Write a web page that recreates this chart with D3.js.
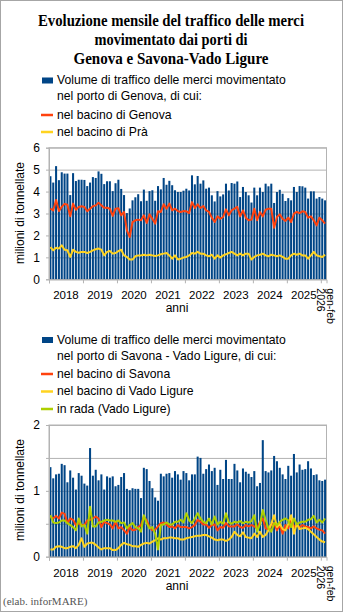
<!DOCTYPE html>
<html>
<head>
<meta charset="utf-8">
<script src="https://cdn.jsdelivr.net/npm/d3@7"></script>
<style>
  html, body { margin: 0; padding: 0; background: #fff; }
  svg { display: block; }
  text { font-family: "Liberation Sans", Arial, sans-serif; fill: #000; }
  .serif { font-family: "Liberation Serif", "Times New Roman", serif; }
</style>
</head>
<body>
<svg id="chart" width="343" height="612"></svg>
<script>
// Monthly freight traffic, Jan 2018 – Feb 2026 (million tonnes)
const yearLabels = ["2018", "2019", "2020", "2021", "2022", "2023", "2024", "2025"];
const lastLabel = ["gen-feb", "2026"];

// Port of Genova: total, Genova basin, Prà basin
const genovaTotale = [
  4.70, 4.41, 5.16, 4.52, 4.88, 4.82, 4.82, 3.84, 4.84, 4.48, 4.54, 4.54,
  4.53, 4.25, 4.41, 4.66, 4.62, 4.92, 4.81, 4.34, 4.47, 4.47, 4.02, 4.38,
  4.54, 4.12, 3.84, 3.02, 3.23, 3.60, 3.74, 3.88, 3.56, 4.09, 3.58, 4.02,
  4.06, 3.58, 4.25, 4.10, 4.62, 4.31, 4.49, 4.29, 4.06, 3.98, 3.98, 4.04,
  4.13, 4.05, 4.74, 4.33, 4.71, 4.36, 4.51, 4.13, 4.18, 3.83, 3.55, 4.02,
  3.78, 3.87, 4.36, 4.05, 4.39, 4.36, 4.46, 3.75, 4.21, 3.98, 3.83, 3.50,
  4.18, 3.83, 4.18, 3.98, 4.36, 4.24, 4.36, 3.48, 3.98, 4.08, 3.90, 3.57,
  3.70, 3.60, 4.21, 3.98, 4.25, 4.24, 4.18, 3.68, 4.01, 4.01, 3.68, 3.75,
  3.68, 3.60
];
const bacinoGenova = [
  3.22, 3.14, 3.62, 3.11, 3.30, 3.44, 3.40, 2.87, 3.45, 3.17, 3.30, 3.33,
  3.30, 3.10, 3.22, 3.33, 3.37, 3.49, 3.37, 3.26, 3.26, 3.22, 2.89, 3.22,
  3.24, 2.92, 3.07, 2.23, 1.93, 2.61, 2.69, 2.72, 2.69, 2.92, 2.57, 2.96,
  2.76, 2.54, 3.10, 3.07, 3.42, 3.22, 3.45, 3.14, 3.22, 3.11, 3.07, 3.11,
  3.10, 3.02, 3.52, 3.25, 3.42, 3.25, 3.34, 3.14, 3.07, 2.81, 2.61, 2.87,
  2.76, 2.84, 3.19, 2.92, 3.14, 3.22, 3.30, 2.87, 3.14, 2.81, 2.69, 2.72,
  3.22, 2.69, 3.07, 2.87, 3.17, 3.22, 3.22, 2.35, 2.84, 2.96, 2.76, 2.66,
  2.81, 2.61, 2.99, 3.07, 3.02, 3.10, 3.07, 2.81, 2.87, 2.69, 2.46, 2.81,
  2.69, 2.54
];
const bacinoPra = [
  1.47, 1.32, 1.44, 1.40, 1.55, 1.35, 1.32, 1.02, 1.35, 1.25, 1.21, 1.25,
  1.25, 1.20, 1.25, 1.32, 1.37, 1.40, 1.35, 1.09, 1.25, 1.29, 1.17, 1.20,
  1.28, 1.35, 1.09, 1.02, 0.90, 0.90, 1.05, 1.09, 1.09, 1.12, 1.09, 1.12,
  1.09, 1.06, 1.09, 1.14, 1.17, 1.20, 1.09, 0.94, 1.09, 0.90, 0.94, 0.99,
  1.02, 1.09, 1.20, 1.17, 1.25, 1.17, 1.17, 1.09, 1.05, 1.12, 0.94, 1.09,
  0.99, 1.09, 1.14, 1.20, 1.25, 1.17, 1.09, 1.17, 1.09, 1.17, 1.17, 0.90,
  1.02, 1.09, 1.12, 1.17, 1.09, 1.05, 1.12, 1.09, 1.05, 1.09, 1.02, 0.94,
  0.94, 1.09, 1.17, 1.12, 1.17, 1.09, 1.09, 0.94, 1.09, 1.25, 1.09, 1.05,
  1.02, 1.12
];

// Port of Savona - Vado Ligure: total, Savona basin, Vado Ligure basin, roadstead
const savonaTotale = [
  1.36, 1.19, 1.25, 1.26, 1.41, 1.39, 1.13, 1.31, 1.20, 1.02, 1.27, 1.23,
  1.11, 1.08, 1.65, 1.23, 1.32, 1.16, 1.25, 1.02, 1.22, 1.20, 1.22, 1.07,
  1.09, 1.21, 1.27, 1.03, 1.01, 1.04, 1.03, 1.03, 0.89, 1.35, 1.33, 1.15,
  1.04, 0.90, 0.85, 1.26, 1.22, 1.26, 1.27, 1.20, 1.30, 1.25, 1.17, 1.30,
  1.27, 1.16, 1.25, 1.25, 1.52, 1.50, 1.26, 1.33, 1.40, 1.30, 1.35, 1.09,
  1.32, 1.18, 1.47, 1.18, 1.18, 1.41, 1.31, 1.13, 1.34, 1.29, 1.26, 1.21,
  1.30, 1.07, 1.12, 1.77, 1.30, 1.28, 1.31, 1.53, 1.45, 1.35, 1.25, 1.18,
  1.38, 1.23, 1.56, 1.28, 1.40, 1.32, 1.33, 1.45, 1.34, 1.24, 1.25, 1.16,
  1.15, 1.17
];
const bacinoSavona = [
  0.61, 0.58, 0.62, 0.58, 0.67, 0.65, 0.51, 0.58, 0.56, 0.48, 0.51, 0.48,
  0.48, 0.55, 0.56, 0.58, 0.61, 0.58, 0.45, 0.53, 0.51, 0.49, 0.43, 0.53,
  0.43, 0.45, 0.40, 0.35, 0.45, 0.40, 0.41, 0.45, 0.48, 0.61, 0.55, 0.45,
  0.40, 0.41, 0.46, 0.51, 0.52, 0.49, 0.45, 0.46, 0.43, 0.48, 0.45, 0.45,
  0.45, 0.43, 0.45, 0.48, 0.56, 0.53, 0.49, 0.49, 0.44, 0.48, 0.49, 0.40,
  0.45, 0.44, 0.51, 0.46, 0.46, 0.46, 0.49, 0.45, 0.44, 0.48, 0.46, 0.48,
  0.46, 0.43, 0.53, 0.58, 0.43, 0.41, 0.48, 0.51, 0.40, 0.48, 0.35, 0.48,
  0.43, 0.58, 0.45, 0.48, 0.45, 0.48, 0.46, 0.45, 0.43, 0.46, 0.43, 0.41,
  0.40, 0.35
];
const bacinoVado = [
  0.11, 0.11, 0.15, 0.16, 0.15, 0.13, 0.13, 0.15, 0.16, 0.13, 0.18, 0.28,
  0.15, 0.20, 0.21, 0.21, 0.18, 0.14, 0.11, 0.13, 0.13, 0.13, 0.10, 0.10,
  0.13, 0.18, 0.21, 0.19, 0.18, 0.16, 0.16, 0.15, 0.18, 0.20, 0.21, 0.20,
  0.23, 0.25, 0.28, 0.26, 0.28, 0.28, 0.29, 0.29, 0.28, 0.28, 0.26, 0.26,
  0.28, 0.29, 0.30, 0.31, 0.32, 0.32, 0.33, 0.33, 0.31, 0.29, 0.26, 0.25,
  0.26, 0.26, 0.24, 0.26, 0.30, 0.38, 0.33, 0.31, 0.37, 0.30, 0.29, 0.28,
  0.35, 0.30, 0.38, 0.30, 0.33, 0.40, 0.50, 0.63, 0.45, 0.50, 0.42, 0.40,
  0.50, 0.63, 0.35, 0.50, 0.42, 0.43, 0.44, 0.42, 0.38, 0.34, 0.30, 0.26,
  0.23, 0.22
];
const radaVado = [
  0.63, 0.52, 0.51, 0.52, 0.55, 0.55, 0.51, 0.48, 0.45, 0.40, 0.58, 0.46,
  0.48, 0.35, 0.76, 0.46, 0.46, 0.52, 0.53, 0.55, 0.56, 0.55, 0.55, 0.53,
  0.55, 0.51, 0.52, 0.43, 0.48, 0.51, 0.45, 0.43, 0.38, 0.63, 0.51, 0.43,
  0.45, 0.35, 0.11, 0.48, 0.49, 0.52, 0.49, 0.49, 0.53, 0.53, 0.56, 0.52,
  0.66, 0.55, 0.51, 0.58, 0.66, 0.58, 0.53, 0.51, 0.58, 0.49, 0.61, 0.49,
  0.53, 0.50, 0.66, 0.52, 0.50, 0.53, 0.52, 0.54, 0.51, 0.53, 0.52, 0.54,
  0.63, 0.38, 0.49, 0.71, 0.56, 0.43, 0.38, 0.51, 0.48, 0.53, 0.56, 0.58,
  0.55, 0.45, 0.58, 0.49, 0.52, 0.53, 0.53, 0.56, 0.57, 0.62, 0.52, 0.56,
  0.52, 0.58
];

const COLORS = { bar: "#004586", red: "#ff420e", yellow: "#ffd320", green: "#aecf00" };
const GRID = "#b3b3b3";

const svg = d3.select("#chart");

// page frame
svg.append("rect")
  .attr("x", 0.5).attr("y", 0.5).attr("width", 342).attr("height", 611)
  .attr("fill", "#fff").attr("stroke", "#a6a6a6");

// title
const titleLines = [
  { t: "Evoluzione mensile del traffico delle merci", y: 26, w: 266 },
  { t: "movimentato dai porti di", y: 45, w: 153 },
  { t: "Genova e Savona-Vado Ligure", y: 63.5, w: 195 }
];
svg.append("g").selectAll("text").data(titleLines).join("text")
  .attr("class", "serif")
  .attr("x", 171).attr("y", d => d.y)
  .attr("text-anchor", "middle")
  .attr("font-size", 16).attr("font-weight", "bold")
  .attr("textLength", d => d.w).attr("lengthAdjust", "spacingAndGlyphs")
  .text(d => d.t);

function legend(g, items) {
  items.forEach(it => {
    if (it.kind === "bar") {
      g.append("rect").attr("x", 42).attr("y", it.y - 6.5).attr("width", 11).attr("height", 6)
        .attr("fill", it.color);
    } else {
      g.append("line").attr("x1", 41).attr("x2", 53).attr("y1", it.y - 3.5).attr("y2", it.y - 3.5)
        .attr("stroke", it.color).attr("stroke-width", 2.5);
    }
    it.lines.forEach((ln, k) => {
      g.append("text").attr("x", 57).attr("y", it.y + k * 16)
        .attr("font-size", 12.2).text(ln);
    });
  });
}

function panel(cfg) {
  const g = svg.append("g");
  const n = cfg.total.length;
  const x0 = 49, x1 = 326.5;

  const x = d3.scaleBand().domain(d3.range(n)).range([x0, x1])
    .paddingInner(0.28).paddingOuter(0.14);
  const xm = d3.scaleLinear().domain([0, n]).range([x0, x1]);
  const y = d3.scaleLinear().domain([0, cfg.max]).range([cfg.y0, cfg.y1]);

  // gridlines
  g.append("g").attr("transform", `translate(${x0},0)`)
    .call(d3.axisLeft(y).tickValues(cfg.grid).tickSize(-(x1 - x0)).tickFormat(""))
    .call(a => a.select(".domain").remove())
    .call(a => a.selectAll("line").attr("stroke", GRID));

  // plot frame
  g.append("rect").attr("x", x0).attr("y", cfg.y1).attr("width", x1 - x0).attr("height", cfg.y0 - cfg.y1)
    .attr("fill", "none").attr("stroke", GRID);

  // bars
  g.append("g").selectAll("rect").data(cfg.total).join("rect")
    .attr("x", (d, i) => x(i)).attr("width", x.bandwidth())
    .attr("y", d => y(d)).attr("height", d => y(0) - y(d))
    .attr("fill", COLORS.bar);

  // lines
  const line = d3.line().x((d, i) => x(i) + x.bandwidth() / 2).y(d => y(d));
  cfg.series.forEach(s => {
    g.append("path").datum(s.values).attr("d", line)
      .attr("fill", "none").attr("stroke", s.color).attr("stroke-width", 2)
      .attr("stroke-linejoin", "round");
  });

  // y axis
  const ya = g.append("g").attr("transform", `translate(${x0},0)`)
    .call(d3.axisLeft(y).tickValues(cfg.grid).tickSize(3).tickPadding(6)
      .tickFormat(d => cfg.labels.includes(d) ? d3.format("d")(d) : ""));
  ya.select(".domain").attr("stroke", GRID);
  ya.selectAll("line").attr("stroke", GRID);
  ya.selectAll("text").attr("font-size", 12).attr("font-family", "Liberation Sans, Arial, sans-serif");

  // x axis: year separators
  const xa = g.append("g").attr("transform", `translate(0,${cfg.y0})`)
    .call(d3.axisBottom(xm).tickValues(d3.range(0, n, 12)).tickSize(4).tickFormat(""));
  xa.select(".domain").attr("stroke", GRID);
  xa.selectAll("line").attr("stroke", GRID);

  // year labels centred on each year
  g.append("g").selectAll("text").data(yearLabels).join("text")
    .attr("x", (d, k) => xm(k * 12 + 6)).attr("y", cfg.y0 + 20)
    .attr("text-anchor", "middle").attr("font-size", 11.5)
    .text(d => d);

  // last partial year label, rotated to read downwards; first line on the right
  const lg = g.append("g").attr("transform", `translate(${xm(n - 2) - 4},${cfg.y0 + 9}) rotate(90)`);
  lastLabel.forEach((t, k) => {
    lg.append("text").attr("x", 0).attr("y", -(lastLabel.length - 1 - k) * 10)
      .attr("font-size", 10.5).text(t);
  });

  // axis titles
  g.append("text").attr("x", 177).attr("y", cfg.y0 + 33)
    .attr("text-anchor", "middle").attr("font-size", 12).text("anni");
  g.append("text")
    .attr("transform", `translate(24,${cfg.ymid}) rotate(-90)`)
    .attr("text-anchor", "middle").attr("font-size", 12).text("milioni di tonnellate");
}

// --- Genova ---
legend(svg.append("g"), [
  { kind: "bar", color: COLORS.bar, y: 84,
    lines: ["Volume di traffico delle merci movimentato", "nel porto di Genova, di cui:"] },
  { kind: "line", color: COLORS.red, y: 118.5, lines: ["nel bacino di Genova"] },
  { kind: "line", color: COLORS.yellow, y: 135.5, lines: ["nel bacino di Prà"] }
]);
panel({
  total: genovaTotale,
  series: [
    { values: bacinoGenova, color: COLORS.red },
    { values: bacinoPra, color: COLORS.yellow }
  ],
  max: 6, y0: 279.3, y1: 147.7, ymid: 213,
  grid: [0, 1, 2, 3, 4, 5, 6], labels: [0, 1, 2, 3, 4, 5, 6]
});

// --- Savona - Vado Ligure ---
legend(svg.append("g"), [
  { kind: "bar", color: COLORS.bar, y: 343.5,
    lines: ["Volume di traffico delle merci movimentato", "nel porto di Savona - Vado Ligure, di cui:"] },
  { kind: "line", color: COLORS.red, y: 377.5, lines: ["nel bacino di Savona"] },
  { kind: "line", color: COLORS.yellow, y: 395, lines: ["nel bacino di Vado Ligure"] },
  { kind: "line", color: COLORS.green, y: 412.5, lines: ["in rada (Vado Ligure)"] }
]);
panel({
  total: savonaTotale,
  series: [
    { values: bacinoSavona, color: COLORS.red },
    { values: bacinoVado, color: COLORS.yellow },
    { values: radaVado, color: COLORS.green }
  ],
  max: 2, y0: 556.7, y1: 425, ymid: 490,
  grid: [0, 0.5, 1, 1.5, 2], labels: [0, 1, 2]
});

// source note
svg.append("text").attr("class", "serif")
  .attr("x", 3).attr("y", 605).attr("font-size", 11)
  .style("fill", "#555")
  .text("(elab. inforMARE)");
</script>
</body>
</html>
